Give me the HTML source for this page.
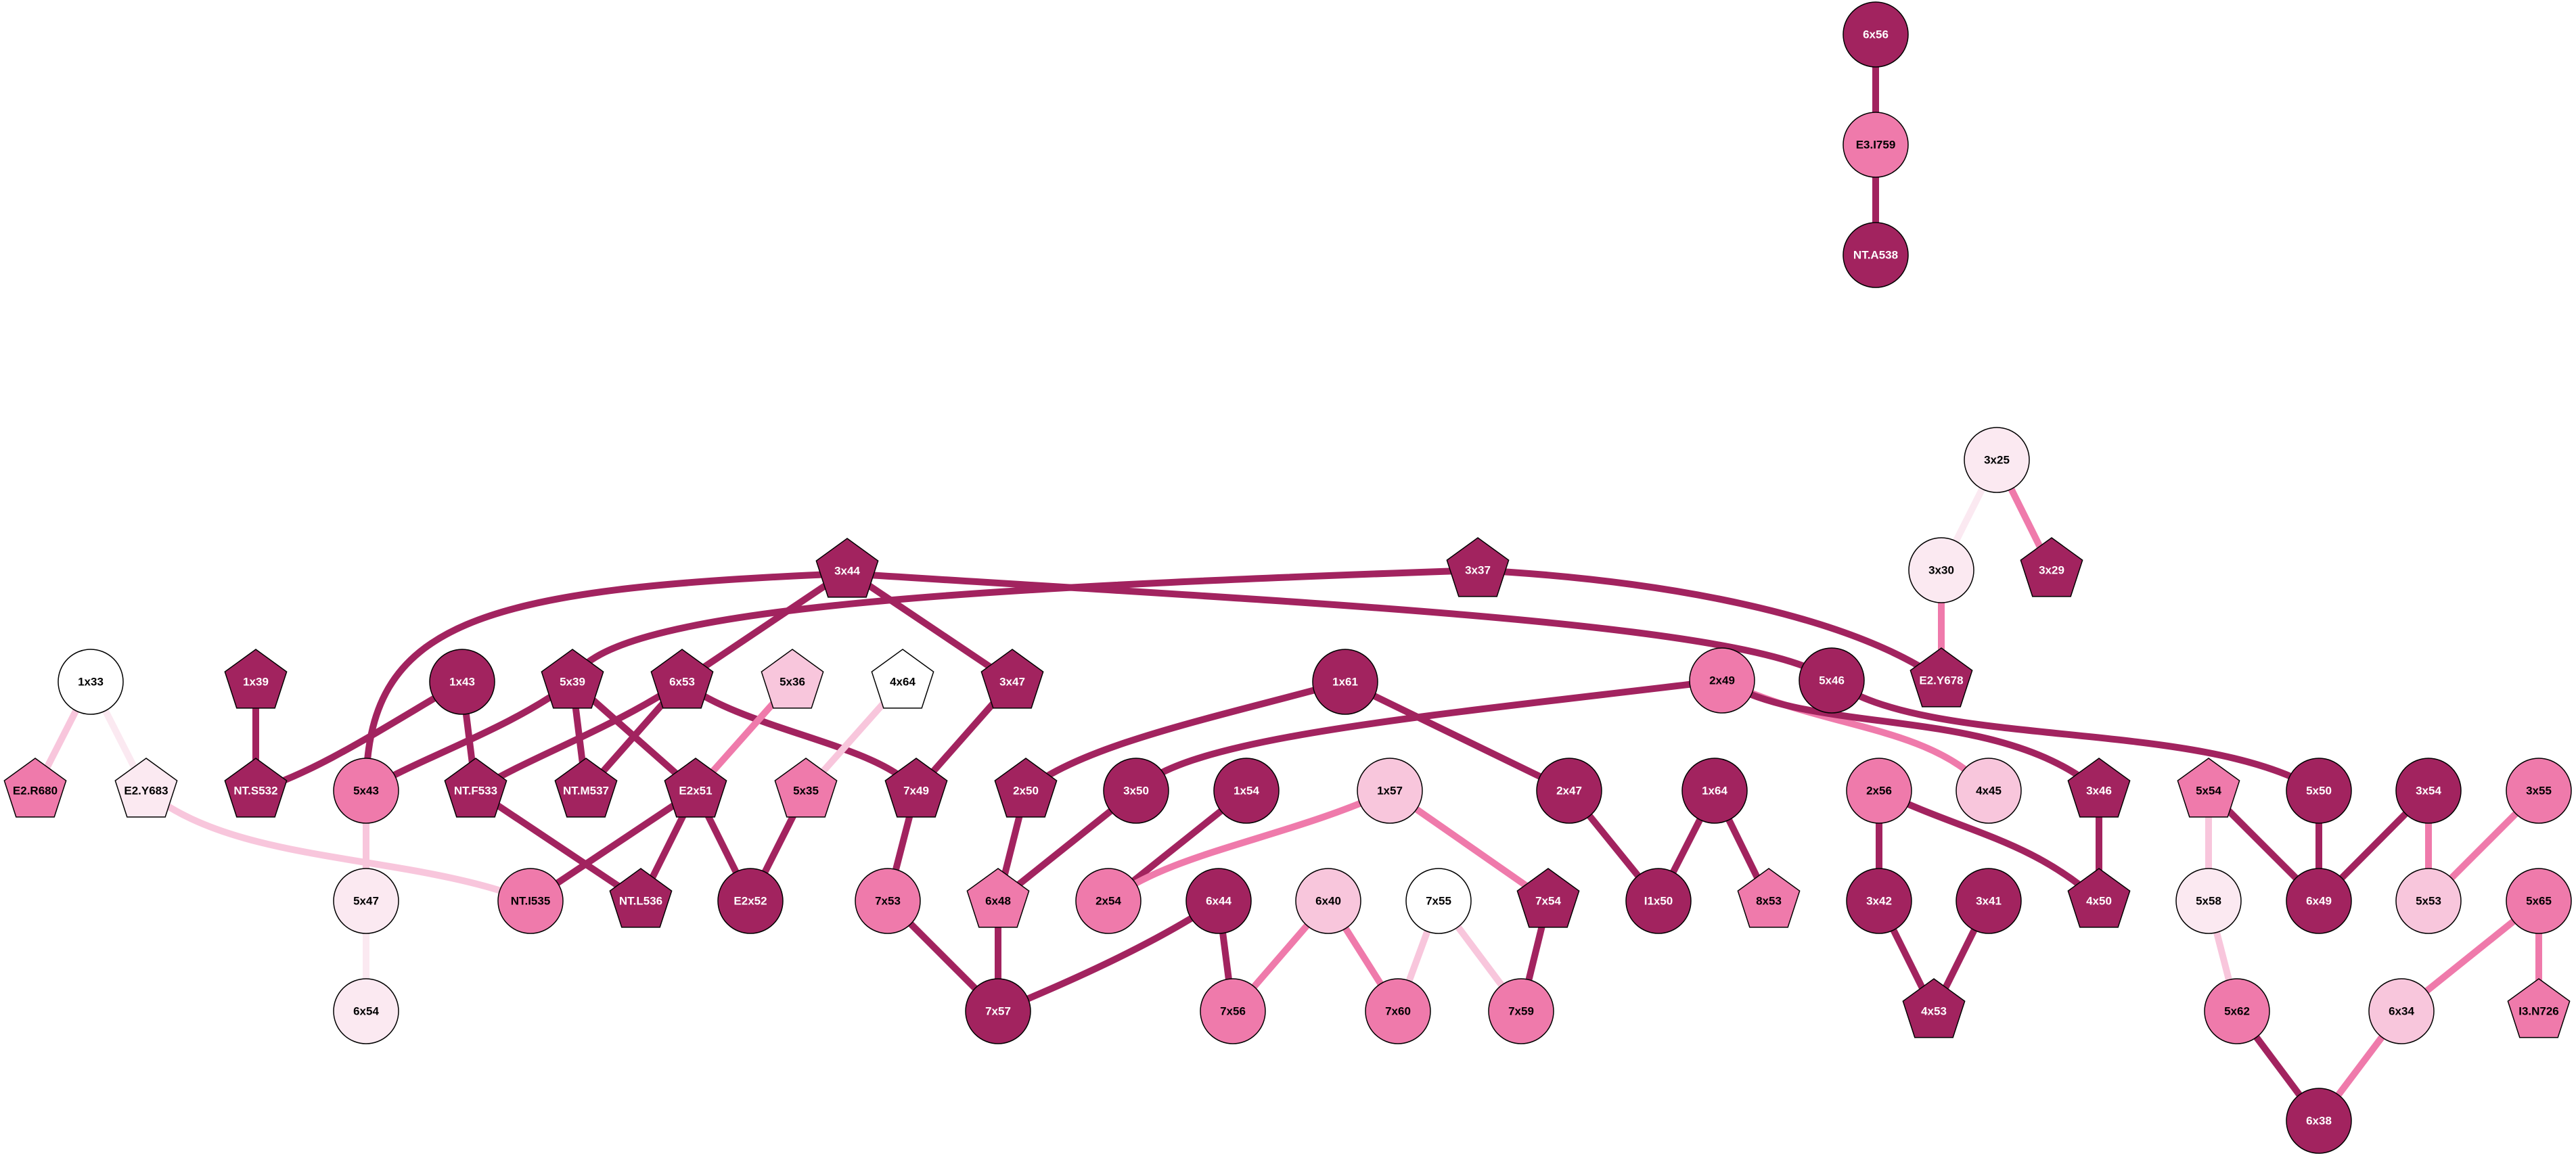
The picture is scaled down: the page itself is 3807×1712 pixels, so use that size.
<!DOCTYPE html>
<html><head><meta charset="utf-8"><style>
html,body{margin:0;padding:0;background:#fff}
svg{display:block}
text{font-family:"Liberation Sans",sans-serif;font-weight:bold;font-size:17px;text-anchor:middle;dominant-baseline:central}
.e{fill:none;stroke-width:10}
.D{stroke:#a2235f}.M{stroke:#ef7aab}.L{stroke:#f8c6dc}.V{stroke:#fbe9f1}
.n{stroke:#000;stroke-width:1.5}
.d{fill:#a2235f}.m{fill:#ef7aab}.l{fill:#f8c6dc}.v{fill:#fbe9f1}.w{fill:#fff}
.tw{fill:#fff}.tb{fill:#000}
</style></head><body>
<svg width="3807" height="1712" viewBox="0 0 3807 1712" xmlns="http://www.w3.org/2000/svg">
<defs>
<polygon id="p" points="0,-48 45.65,-14.83 28.21,38.83 -28.21,38.83 -45.65,-14.83"/>
</defs>
<!-- edges -->
<g>
<line class="e L" x1="134" y1="1008" x2="52" y2="1169"/>
<line class="e V" x1="134" y1="1008" x2="216" y2="1169"/>
<path class="e L" d="M216,1169 C350,1280 600,1260 784,1332"/>
<line class="e D" x1="378" y1="1008" x2="378" y2="1169"/>
<path class="e D" d="M683,1008 C560,1080 470,1140 378,1169"/>
<line class="e D" x1="683" y1="1008" x2="703" y2="1169"/>
<path class="e D" d="M1252,848 C700,870 541,920 541,1169"/>
<line class="e D" x1="1252" y1="844" x2="1008" y2="1008"/>
<line class="e D" x1="1252" y1="844" x2="1496" y2="1008"/>
<path class="e D" d="M1252,848 C1900,890 2600,920 2707,1006"/>
<path class="e D" d="M2184,843 C1400,870 880,900 846,1008"/>
<path class="e D" d="M2184,843 C2500,860 2750,920 2869,1006"/>
<path class="e D" d="M846,1008 C750,1080 620,1120 541,1169"/>
<line class="e D" x1="846" y1="1008" x2="866" y2="1169"/>
<line class="e D" x1="846" y1="1008" x2="1028" y2="1169"/>
<path class="e D" d="M1008,1008 C900,1080 780,1120 703,1169"/>
<line class="e D" x1="1008" y1="1008" x2="866" y2="1169"/>
<path class="e D" d="M1008,1008 C1100,1080 1300,1100 1354,1169"/>
<line class="e M" x1="1171" y1="1008" x2="1028" y2="1169"/>
<line class="e D" x1="1028" y1="1169" x2="784" y2="1332"/>
<line class="e D" x1="1028" y1="1169" x2="947" y2="1332"/>
<line class="e D" x1="1028" y1="1169" x2="1109" y2="1332"/>
<line class="e D" x1="703" y1="1169" x2="947" y2="1332"/>
<line class="e D" x1="1191" y1="1169" x2="1109" y2="1332"/>
<line class="e L" x1="1334" y1="1008" x2="1191" y2="1169"/>
<line class="e D" x1="1496" y1="1008" x2="1354" y2="1169"/>
<line class="e L" x1="541" y1="1169" x2="541" y2="1332"/>
<line class="e V" x1="541" y1="1332" x2="541" y2="1495"/>
<line class="e D" x1="1354" y1="1169" x2="1312" y2="1332"/>
<line class="e D" x1="1312" y1="1332" x2="1475" y2="1495"/>
<line class="e D" x1="1475" y1="1332" x2="1475" y2="1495"/>
<path class="e D" d="M1801,1332 C1700,1400 1560,1460 1475,1495"/>
<line class="e D" x1="1801" y1="1332" x2="1822" y2="1495"/>
<line class="e D" x1="1516" y1="1169" x2="1475" y2="1332"/>
<line class="e D" x1="1679" y1="1169" x2="1475" y2="1332"/>
<path class="e D" d="M1988,1008 C1800,1060 1600,1100 1516,1169"/>
<line class="e D" x1="1988" y1="1008" x2="2319" y2="1169"/>
<path class="e D" d="M2545,1006 C2100,1060 1750,1090 1679,1169"/>
<path class="e M" d="M2545,1006 C2700,1080 2850,1070 2939,1169"/>
<path class="e D" d="M2545,1006 C2680,1090 2950,1040 3102,1169"/>
<path class="e D" d="M2707,1006 C2850,1110 3250,1060 3427,1169"/>
<line class="e D" x1="1842" y1="1169" x2="1638" y2="1332"/>
<path class="e M" d="M2054,1169 C1900,1240 1730,1260 1638,1332"/>
<line class="e M" x1="2054" y1="1169" x2="2288" y2="1332"/>
<line class="e M" x1="1963" y1="1332" x2="1822" y2="1495"/>
<line class="e M" x1="1963" y1="1332" x2="2066" y2="1495"/>
<line class="e L" x1="2126" y1="1332" x2="2066" y2="1495"/>
<line class="e L" x1="2126" y1="1332" x2="2248" y2="1495"/>
<line class="e D" x1="2288" y1="1332" x2="2248" y2="1495"/>
<line class="e D" x1="2319" y1="1169" x2="2451" y2="1332"/>
<line class="e D" x1="2534" y1="1169" x2="2451" y2="1332"/>
<line class="e D" x1="2534" y1="1169" x2="2614" y2="1332"/>
<line class="e D" x1="2777" y1="1169" x2="2777" y2="1332"/>
<path class="e D" d="M2777,1169 C2900,1230 3000,1240 3102,1332"/>
<line class="e D" x1="2777" y1="1332" x2="2858" y2="1495"/>
<line class="e D" x1="2939" y1="1332" x2="2858" y2="1495"/>
<line class="e D" x1="3102" y1="1169" x2="3102" y2="1332"/>
<line class="e L" x1="3264" y1="1169" x2="3264" y2="1332"/>
<line class="e D" x1="3264" y1="1169" x2="3427" y2="1332"/>
<line class="e D" x1="3427" y1="1169" x2="3427" y2="1332"/>
<line class="e D" x1="3589" y1="1169" x2="3427" y2="1332"/>
<line class="e M" x1="3589" y1="1169" x2="3589" y2="1332"/>
<line class="e M" x1="3752" y1="1169" x2="3589" y2="1332"/>
<line class="e L" x1="3264" y1="1332" x2="3306" y2="1495"/>
<line class="e D" x1="3306" y1="1495" x2="3427" y2="1657"/>
<line class="e M" x1="3549" y1="1495" x2="3427" y2="1657"/>
<line class="e M" x1="3752" y1="1332" x2="3549" y2="1495"/>
<line class="e M" x1="3752" y1="1332" x2="3752" y2="1495"/>
<line class="e V" x1="2951" y1="680" x2="2869" y2="843"/>
<line class="e M" x1="2951" y1="680" x2="3032" y2="843"/>
<line class="e M" x1="2869" y1="843" x2="2869" y2="1006"/>
<line class="e D" x1="2772" y1="51" x2="2772" y2="214"/>
<line class="e D" x1="2772" y1="214" x2="2772" y2="377"/>
</g>
<!-- nodes -->
<g>
<circle class="n w" cx="134" cy="1008" r="48"/><text class="tb" x="134" y="1008">1x33</text>
<use href="#p" class="n d" x="378" y="1008"/><text class="tw" x="378" y="1008">1x39</text>
<circle class="n d" cx="683" cy="1008" r="48"/><text class="tw" x="683" y="1008">1x43</text>
<use href="#p" class="n d" x="846" y="1008"/><text class="tw" x="846" y="1008">5x39</text>
<use href="#p" class="n d" x="1008" y="1008"/><text class="tw" x="1008" y="1008">6x53</text>
<use href="#p" class="n l" x="1171" y="1008"/><text class="tb" x="1171" y="1008">5x36</text>
<use href="#p" class="n w" x="1334" y="1008"/><text class="tb" x="1334" y="1008">4x64</text>
<use href="#p" class="n d" x="1496" y="1008"/><text class="tw" x="1496" y="1008">3x47</text>
<circle class="n d" cx="1988" cy="1008" r="48"/><text class="tw" x="1988" y="1008">1x61</text>
<circle class="n m" cx="2545" cy="1006" r="48"/><text class="tb" x="2545" y="1006">2x49</text>
<circle class="n d" cx="2707" cy="1006" r="48"/><text class="tw" x="2707" y="1006">5x46</text>
<use href="#p" class="n d" x="2869" y="1006"/><text class="tw" x="2869" y="1006">E2.Y678</text>

<use href="#p" class="n d" x="1252" y="844"/><text class="tw" x="1252" y="844">3x44</text>
<use href="#p" class="n d" x="2184" y="843"/><text class="tw" x="2184" y="843">3x37</text>
<circle class="n v" cx="2869" cy="843" r="48"/><text class="tb" x="2869" y="843">3x30</text>
<use href="#p" class="n d" x="3032" y="843"/><text class="tw" x="3032" y="843">3x29</text>
<circle class="n v" cx="2951" cy="680" r="48"/><text class="tb" x="2951" y="680">3x25</text>

<circle class="n d" cx="2772" cy="51" r="48"/><text class="tw" x="2772" y="51">6x56</text>
<circle class="n m" cx="2772" cy="214" r="48"/><text class="tb" x="2772" y="214">E3.I759</text>
<circle class="n d" cx="2772" cy="377" r="48"/><text class="tw" x="2772" y="377">NT.A538</text>

<use href="#p" class="n m" x="52" y="1169"/><text class="tb" x="52" y="1169">E2.R680</text>
<use href="#p" class="n v" x="216" y="1169"/><text class="tb" x="216" y="1169">E2.Y683</text>
<use href="#p" class="n d" x="378" y="1169"/><text class="tw" x="378" y="1169">NT.S532</text>
<circle class="n m" cx="541" cy="1169" r="48"/><text class="tb" x="541" y="1169">5x43</text>
<use href="#p" class="n d" x="703" y="1169"/><text class="tw" x="703" y="1169">NT.F533</text>
<use href="#p" class="n d" x="866" y="1169"/><text class="tw" x="866" y="1169">NT.M537</text>
<use href="#p" class="n d" x="1028" y="1169"/><text class="tw" x="1028" y="1169">E2x51</text>
<use href="#p" class="n m" x="1191" y="1169"/><text class="tb" x="1191" y="1169">5x35</text>
<use href="#p" class="n d" x="1354" y="1169"/><text class="tw" x="1354" y="1169">7x49</text>
<use href="#p" class="n d" x="1516" y="1169"/><text class="tw" x="1516" y="1169">2x50</text>
<circle class="n d" cx="1679" cy="1169" r="48"/><text class="tw" x="1679" y="1169">3x50</text>
<circle class="n d" cx="1842" cy="1169" r="48"/><text class="tw" x="1842" y="1169">1x54</text>
<circle class="n l" cx="2054" cy="1169" r="48"/><text class="tb" x="2054" y="1169">1x57</text>
<circle class="n d" cx="2319" cy="1169" r="48"/><text class="tw" x="2319" y="1169">2x47</text>
<circle class="n d" cx="2534" cy="1169" r="48"/><text class="tw" x="2534" y="1169">1x64</text>
<circle class="n m" cx="2777" cy="1169" r="48"/><text class="tb" x="2777" y="1169">2x56</text>
<circle class="n l" cx="2939" cy="1169" r="48"/><text class="tb" x="2939" y="1169">4x45</text>
<use href="#p" class="n d" x="3102" y="1169"/><text class="tw" x="3102" y="1169">3x46</text>
<use href="#p" class="n m" x="3264" y="1169"/><text class="tb" x="3264" y="1169">5x54</text>
<circle class="n d" cx="3427" cy="1169" r="48"/><text class="tw" x="3427" y="1169">5x50</text>
<circle class="n d" cx="3589" cy="1169" r="48"/><text class="tw" x="3589" y="1169">3x54</text>
<circle class="n m" cx="3752" cy="1169" r="48"/><text class="tb" x="3752" y="1169">3x55</text>

<circle class="n v" cx="541" cy="1332" r="48"/><text class="tb" x="541" y="1332">5x47</text>
<circle class="n m" cx="784" cy="1332" r="48"/><text class="tb" x="784" y="1332">NT.I535</text>
<use href="#p" class="n d" x="947" y="1332"/><text class="tw" x="947" y="1332">NT.L536</text>
<circle class="n d" cx="1109" cy="1332" r="48"/><text class="tw" x="1109" y="1332">E2x52</text>
<circle class="n m" cx="1312" cy="1332" r="48"/><text class="tb" x="1312" y="1332">7x53</text>
<use href="#p" class="n m" x="1475" y="1332"/><text class="tb" x="1475" y="1332">6x48</text>
<circle class="n m" cx="1638" cy="1332" r="48"/><text class="tb" x="1638" y="1332">2x54</text>
<circle class="n d" cx="1801" cy="1332" r="48"/><text class="tw" x="1801" y="1332">6x44</text>
<circle class="n l" cx="1963" cy="1332" r="48"/><text class="tb" x="1963" y="1332">6x40</text>
<circle class="n w" cx="2126" cy="1332" r="48"/><text class="tb" x="2126" y="1332">7x55</text>
<use href="#p" class="n d" x="2288" y="1332"/><text class="tw" x="2288" y="1332">7x54</text>
<circle class="n d" cx="2451" cy="1332" r="48"/><text class="tw" x="2451" y="1332">I1x50</text>
<use href="#p" class="n m" x="2614" y="1332"/><text class="tb" x="2614" y="1332">8x53</text>
<circle class="n d" cx="2777" cy="1332" r="48"/><text class="tw" x="2777" y="1332">3x42</text>
<circle class="n d" cx="2939" cy="1332" r="48"/><text class="tw" x="2939" y="1332">3x41</text>
<use href="#p" class="n d" x="3102" y="1332"/><text class="tw" x="3102" y="1332">4x50</text>
<circle class="n v" cx="3264" cy="1332" r="48"/><text class="tb" x="3264" y="1332">5x58</text>
<circle class="n d" cx="3427" cy="1332" r="48"/><text class="tw" x="3427" y="1332">6x49</text>
<circle class="n l" cx="3589" cy="1332" r="48"/><text class="tb" x="3589" y="1332">5x53</text>
<circle class="n m" cx="3752" cy="1332" r="48"/><text class="tb" x="3752" y="1332">5x65</text>

<circle class="n v" cx="541" cy="1495" r="48"/><text class="tb" x="541" y="1495">6x54</text>
<circle class="n d" cx="1475" cy="1495" r="48"/><text class="tw" x="1475" y="1495">7x57</text>
<circle class="n m" cx="1822" cy="1495" r="48"/><text class="tb" x="1822" y="1495">7x56</text>
<circle class="n m" cx="2066" cy="1495" r="48"/><text class="tb" x="2066" y="1495">7x60</text>
<circle class="n m" cx="2248" cy="1495" r="48"/><text class="tb" x="2248" y="1495">7x59</text>
<use href="#p" class="n d" x="2858" y="1495"/><text class="tw" x="2858" y="1495">4x53</text>
<circle class="n m" cx="3306" cy="1495" r="48"/><text class="tb" x="3306" y="1495">5x62</text>
<circle class="n l" cx="3549" cy="1495" r="48"/><text class="tb" x="3549" y="1495">6x34</text>
<use href="#p" class="n m" x="3752" y="1495"/><text class="tb" x="3752" y="1495">I3.N726</text>
<circle class="n d" cx="3427" cy="1657" r="48"/><text class="tw" x="3427" y="1657">6x38</text>
</g>
</svg>
</body></html>
